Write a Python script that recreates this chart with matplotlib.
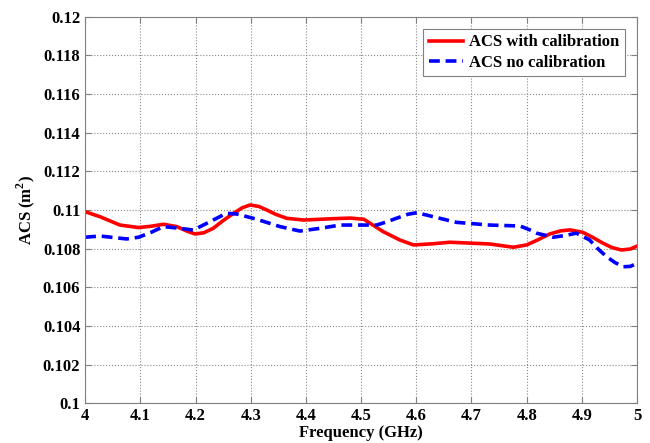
import matplotlib
matplotlib.use('Agg')
import matplotlib.pyplot as plt

# ACS with calibration (red)
freq_cal = [4.0, 4.027, 4.063, 4.097, 4.12, 4.142, 4.166, 4.185, 4.199, 4.215, 4.232,
            4.25, 4.269, 4.285, 4.299, 4.315, 4.329, 4.345, 4.365, 4.396, 4.45,
            4.48, 4.505, 4.54, 4.57, 4.595, 4.63, 4.661, 4.733, 4.776, 4.8, 4.82,
            4.842, 4.862, 4.879, 4.902, 4.92, 4.939, 4.955, 4.972, 4.988, 5.0]
acs_cal = [0.10991, 0.10965, 0.10922, 0.10909, 0.10916, 0.10926, 0.10914, 0.1089,
           0.10876, 0.10882, 0.10905, 0.10945, 0.10983, 0.11012, 0.11026, 0.11018,
           0.11, 0.10978, 0.10957, 0.10948, 0.10955, 0.10958, 0.10952, 0.10888,
           0.10845, 0.10819, 0.10825, 0.10833, 0.10824, 0.10807, 0.10819, 0.10845,
           0.10876, 0.10892, 0.10897, 0.10884, 0.10858, 0.10827, 0.10805, 0.10793,
           0.10798, 0.10813]

# ACS no calibration (blue dashed)
freq_nocal = [4.0, 4.027, 4.05, 4.075, 4.097, 4.12, 4.142, 4.172, 4.196, 4.226,
              4.256, 4.275, 4.311, 4.353, 4.389, 4.426, 4.462, 4.495, 4.528, 4.546,
              4.564, 4.585, 4.601, 4.631, 4.673, 4.733, 4.788, 4.805, 4.818, 4.848,
              4.87, 4.89, 4.914, 4.93, 4.945, 4.96, 4.975, 4.988, 5.0]
acs_nocal = [0.10859, 0.10865, 0.10858, 0.1085, 0.10859, 0.10885, 0.10914, 0.10905,
             0.10896, 0.10939, 0.10983, 0.10979, 0.10952, 0.10914, 0.10891, 0.10905,
             0.10922, 0.10922, 0.10922, 0.10938, 0.10957, 0.10978, 0.10986, 0.10965,
             0.10936, 0.10922, 0.10917, 0.10898, 0.1088, 0.10859, 0.10868, 0.1088,
             0.10845, 0.10797, 0.10758, 0.10728, 0.10706, 0.10708, 0.10724]

xticks = [4, 4.1, 4.2, 4.3, 4.4, 4.5, 4.6, 4.7, 4.8, 4.9, 5]
yticks = [0.1, 0.102, 0.104, 0.106, 0.108, 0.11, 0.112, 0.114, 0.116, 0.118, 0.12]

plt.rcParams['font.family'] = ['Liberation Serif', 'DejaVu Serif']
plt.rcParams['font.weight'] = 'bold'
plt.rcParams['mathtext.fontset'] = 'custom'
plt.rcParams['mathtext.rm'] = 'Liberation Serif:bold'

fig = plt.figure(figsize=(6.5, 4.43), dpi=100)
ax = fig.add_axes([0.131, 0.09, 0.849, 0.872])

ax.plot(freq_cal, acs_cal, color='red', linewidth=2.6, label='ACS with calibration')
ax.plot(freq_nocal, acs_nocal, color='blue', linewidth=2.6, linestyle=(0, (3, 1.6)),
        label='ACS no calibration')

ax.set_xlim(4, 5)
ax.set_ylim(0.1, 0.12)
ax.set_xticks(xticks)
ax.set_xticklabels([f'{t:g}' for t in xticks])
ax.set_yticks(yticks)
ax.set_yticklabels([f'{t:g}' for t in yticks])
ax.tick_params(direction='in', top=True, right=True, labelsize=12, length=4,
               color='#808080')
ax.grid(True, linestyle=':', color='#888888', linewidth=0.8)
for sp in ax.spines.values():
    sp.set_color('#808080')

ax.set_xlabel('Frequency (GHz)', fontsize=12, fontweight='bold', labelpad=1)
ax.set_ylabel('ACS (m$^2$)', fontsize=12, fontweight='bold')

leg = ax.legend(loc='upper right', fontsize=12, fancybox=False, framealpha=1,
                edgecolor='#808080', handlelength=2.0, handletextpad=0.4,
                labelspacing=0.25, borderpad=0.35, borderaxespad=0.7)
leg.get_frame().set_linewidth(0.8)

fig.savefig('out.png', dpi=100)
